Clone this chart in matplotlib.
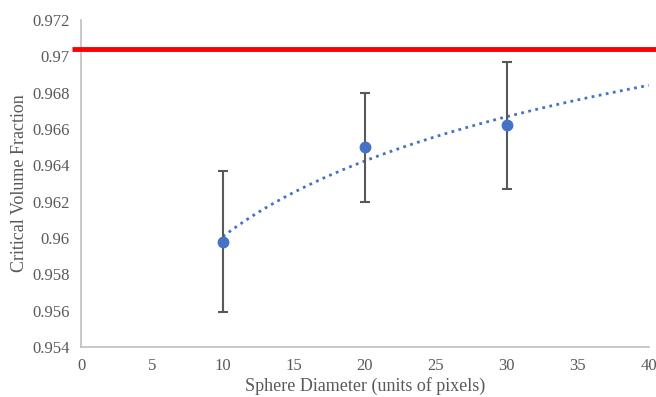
import numpy as np
import matplotlib
matplotlib.use('Agg')
from matplotlib import pyplot as plt

# data
diameters = [10, 20, 30]
fractions = [0.9598, 0.9650, 0.9662]
err_low = [0.9559, 0.9620, 0.9627]
err_high = [0.9637, 0.9680, 0.9697]
limit_value = 0.9704

x_ticks = [0, 5, 10, 15, 20, 25, 30, 35, 40]
y_ticks = [0.954, 0.956, 0.958, 0.96, 0.962, 0.964, 0.966, 0.968, 0.97, 0.972]
y_tick_labels = ['0.954', '0.956', '0.958', '0.96', '0.962', '0.964', '0.966', '0.968', '0.97', '0.972']

plt.rcParams['font.family'] = ['Liberation Serif', 'DejaVu Serif']
text_color = '#595959'
blue = '#4472C4'

fig = plt.figure(figsize=(6.56, 3.97), dpi=100)
ax = fig.add_axes([0.1235, 0.126, 0.8655, 0.8236])

x = np.array(diameters)
y = np.array(fractions)
yerr = [y - np.array(err_low), np.array(err_high) - y]

# logarithmic trendline (Excel style), fitted to the points
a, b = np.polyfit(np.log(x), y, 1)
xt = np.linspace(10, 40, 200)
ax.plot(xt, a * np.log(xt) + b, linestyle=(0, (1, 1.6)), color=blue, linewidth=2, zorder=2)

ax.errorbar(x, y, yerr=yerr, fmt='o', color=blue, markersize=7.5,
            ecolor=text_color, elinewidth=1.5, capsize=3.3, capthick=1.5, zorder=3)

# red reference line, runs a bit past the plot area like in the original
ax.plot([-0.65, 40.6], [limit_value, limit_value], color='#FF0000', linewidth=3.5,
        clip_on=False, solid_capstyle='butt', zorder=4)

ax.set_xlim(0, 40)
ax.set_ylim(0.954, 0.972)
ax.set_xticks(x_ticks)
ax.set_yticks(y_ticks)
ax.set_yticklabels(y_tick_labels)
ax.tick_params(length=0, labelsize=12, colors=text_color, pad=8)

for s in ['top', 'right']:
    ax.spines[s].set_visible(False)
for s in ['left', 'bottom']:
    ax.spines[s].set_color('#BFBFBF')
    ax.spines[s].set_linewidth(1.2)

ax.set_xlabel('Sphere Diameter (units of pixels)', fontsize=13, color=text_color, labelpad=2)
ax.set_ylabel('Critical Volume Fraction', fontsize=13, color=text_color, labelpad=3)

fig.savefig('out.png', dpi=100, facecolor='white')
